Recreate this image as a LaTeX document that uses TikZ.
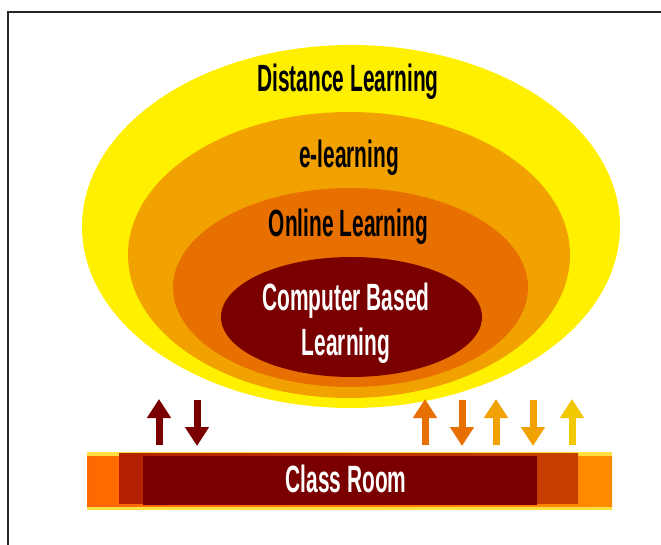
\documentclass[tikz,border=0pt]{standalone}
\usepackage{fontspec}
\newfontfamily\condfont[FakeStretch=0.55]{Liberation Sans Bold}
\usetikzlibrary{shapes,arrows.meta}

\definecolor{distyellow}{HTML}{FFF000}
\definecolor{elearnorange}{HTML}{F2A200}
\definecolor{onlineorange}{HTML}{E87000}
\definecolor{cbldarkred}{HTML}{7A0000}
\definecolor{arrowgold}{HTML}{F0C800}
\definecolor{barorangeL}{HTML}{FF6800}
\definecolor{barorangeR}{HTML}{FF8C00}
\definecolor{barbrownL}{HTML}{B42000}
\definecolor{barbrownR}{HTML}{C84000}
\definecolor{barstrip}{HTML}{FFE040}

\begin{document}
\begin{tikzpicture}[x=1pt, y=-1pt,
  layer/.style={ellipse, inner sep=0pt, outer sep=0pt},
  bar/.style={rectangle, inner sep=0pt, outer sep=0pt},
  label/.style={anchor=base, inner sep=0pt, font=\condfont\fontsize{38}{45}\selectfont},
  uparrow/.style={line width=7pt, -{Triangle[width=23pt,length=19pt]}},
]
\useasboundingbox (0,0) rectangle (661,545);
\fill[white] (0,0) rectangle (661,545);

% 外框
\draw[line width=2pt, black!85] (8,545) -- (8,12) -- (661,12);

% 层次椭圆
\node[layer, fill=distyellow, minimum width=538, minimum height=363] (distance) at (351,226.5) {};
\node[layer, fill=elearnorange, minimum width=442, minimum height=286] (elearn) at (349,255) {};
\node[layer, fill=onlineorange, minimum width=355, minimum height=199] (online) at (350.5,287.5) {};
\node[layer, fill=cbldarkred, minimum width=261, minimum height=120] (cbl) at (351.5,317) {};

% 椭圆标题
\node[label] (distlabel) at (348,92) {Distance Learning};
\node[label] (elearnlabel) at (349,168) {e-learning};
\node[label] (onlinelabel) at (348.5,237) {Online Learning};
\node[label, text=white] (cbllabelA) at (346,310) {Computer Based};
\node[label, text=white] (cbllabelB) at (346,355) {Learning};

% 教室
\node[bar, fill=barstrip, minimum width=525, minimum height=58] (roomstrip) at (349.5,481) {};
\node[bar, left color=barorangeL, right color=barorangeR, minimum width=525, minimum height=50] (roomouter) at (349.5,481) {};
\node[bar, left color=barbrownL, right color=barbrownR, minimum width=459, minimum height=50] (roommid) at (348.5,478) {};
\node[bar, fill=cbldarkred, minimum width=394, minimum height=49] (room) at (340,480.5) {};
\node[label, text=white] (roomlabel) at (346,492) {Class Room};

% 箭头
\coordinate (cblupA) at (159,445);  \coordinate (cblupB) at (159,399);
\coordinate (cbldnA) at (197,400);  \coordinate (cbldnB) at (197,446);
\coordinate (onlupA) at (425,445);  \coordinate (onlupB) at (425,399);
\coordinate (onldnA) at (462,400);  \coordinate (onldnB) at (462,446);
\coordinate (elupA) at (496,445);   \coordinate (elupB) at (496,399);
\coordinate (eldnA) at (533,400);   \coordinate (eldnB) at (533,446);
\coordinate (distupA) at (572,445); \coordinate (distupB) at (572,399);

\draw[uparrow, cbldarkred] (cblupA) -- (cblupB);
\draw[uparrow, cbldarkred] (cbldnA) -- (cbldnB);
\draw[uparrow, onlineorange] (onlupA) -- (onlupB);
\draw[uparrow, onlineorange] (onldnA) -- (onldnB);
\draw[uparrow, elearnorange] (elupA) -- (elupB);
\draw[uparrow, elearnorange] (eldnA) -- (eldnB);
\draw[uparrow, arrowgold] (distupA) -- (distupB);
\end{tikzpicture}
\end{document}
